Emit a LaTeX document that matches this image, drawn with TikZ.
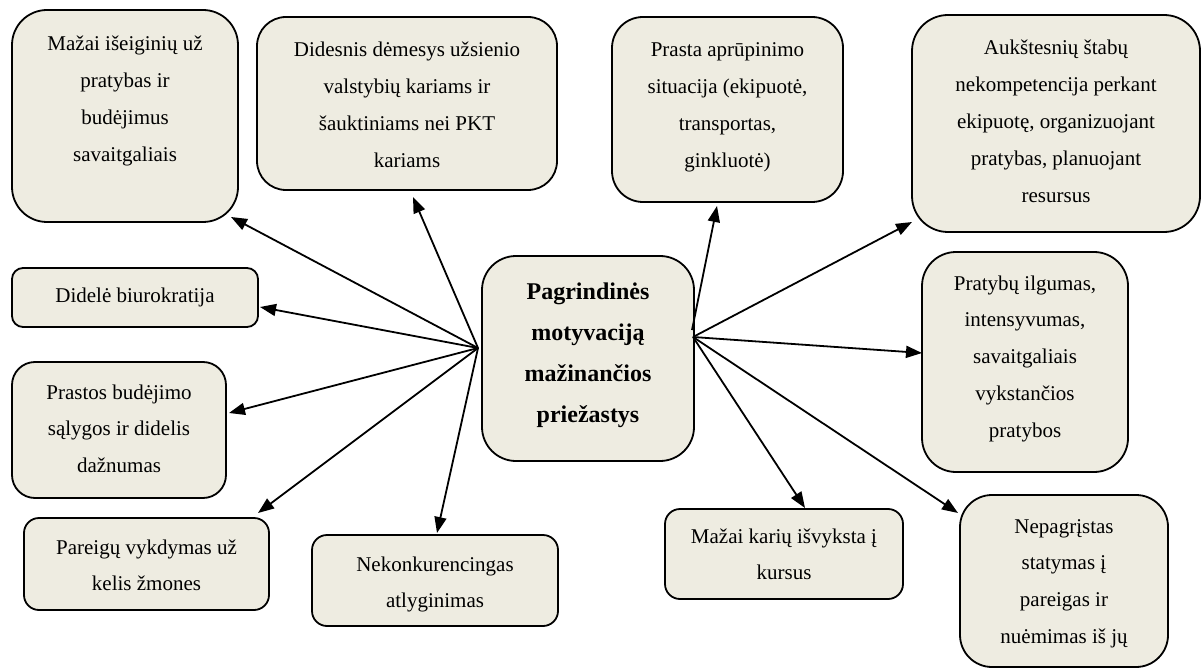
\documentclass[tikz,border=0pt]{standalone}
\usepackage{fontspec}
\setmainfont{Liberation Serif}
\usetikzlibrary{arrows.meta}
\definecolor{boxfill}{HTML}{EEECE1}
% stacked, centred lines; baseline = first line
\newcommand{\linestack}[1]{\begin{tabular}[t]{@{}c@{}}#1\end{tabular}}
\tikzset{
  causebox/.style={draw=black, line width=1.8pt, fill=boxfill, rectangle, inner sep=0pt},
  label/.style={inner sep=0pt, anchor=base, font=\fontsize{21}{36.8}\selectfont},
  mainlabel/.style={inner sep=0pt, anchor=base, font=\fontsize{24}{41.3}\selectfont\bfseries},
  arr/.style={line width=1.8pt, -{Triangle[length=16pt,width=12pt]}}
}
\begin{document}
\begin{tikzpicture}[x=1pt,y=-1pt]
\useasboundingbox (0,0) rectangle (1201,668);

% boxes
\node[causebox, minimum width=226, minimum height=212, rounded corners=35] (b1) at (125,116) {};
\node[causebox, minimum width=300, minimum height=173, rounded corners=29] (b2) at (407,103.5) {};
\node[causebox, minimum width=231, minimum height=185, rounded corners=31] (b3) at (727.5,109.5) {};
\node[causebox, minimum width=288, minimum height=217, rounded corners=36] (b4) at (1056,123.5) {};
\node[causebox, minimum width=246, minimum height=59, rounded corners=11] (b5) at (135,297.5) {};
\node[causebox, minimum width=214, minimum height=136, rounded corners=23] (b6) at (119,430) {};
\node[causebox, minimum width=245, minimum height=92, rounded corners=15] (b7) at (146.5,564) {};
\node[causebox, minimum width=246, minimum height=91, rounded corners=15] (b8) at (435,580.5) {};
\node[causebox, minimum width=238, minimum height=90, rounded corners=15] (b9) at (784,554) {};
\node[causebox, minimum width=206, minimum height=220, rounded corners=34] (b10) at (1025,362) {};
\node[causebox, minimum width=208, minimum height=172, rounded corners=32] (b11) at (1064,581) {};
\node[causebox, minimum width=212, minimum height=205, rounded corners=34] (c) at (588,358.5) {};

% texts
\node[label] (l1) at (125,51) {\linestack{Mažai išeiginių už\\pratybas ir\\budėjimus\\savaitgaliais}};
\node[label] (l2) at (407,57) {\linestack{Didesnis dėmesys užsienio\\valstybių kariams ir\\šauktiniams nei PKT\\kariams}};
\node[label] (l3) at (727.5,57) {\linestack{Prasta aprūpinimo\\situacija (ekipuotė,\\transportas,\\ginkluotė)}};
\node[label] (l4) at (1056,55) {\linestack{Aukštesnių štabų\\nekompetencija perkant\\ekipuotę, organizuojant\\pratybas, planuojant\\resursus}};
\node[label] (l5) at (135,302) {Didelė biurokratija};
\node[label] (l6) at (119,399) {\linestack{Prastos budėjimo\\sąlygos ir didelis\\dažnumas}};
\node[label] (l7) at (146.5,554) {\linestack{Pareigų vykdymas už\\kelis žmones}};
\node[label] (l8) at (435,571) {\linestack{Nekonkurencingas\\atlyginimas}};
\node[label] (l9) at (784,543) {\linestack{Mažai karių išvyksta į\\kursus}};
\node[label] (l10) at (1025,290) {\linestack{Pratybų ilgumas,\\intensyvumas,\\savaitgaliais\\vykstančios\\pratybos}};
\node[label] (l11) at (1064,533) {\linestack{Nepagrįstas\\statymas į\\pareigas ir\\nuėmimas iš jų}};
\node[mainlabel] (lc) at (588,299) {\linestack{Pagrindinės\\motyvaciją\\mažinančios\\priežastys}};

% arrow origins on the central box and arrow tips at the boxes
\coordinate (hubL) at (478,348);
\coordinate (hubR) at (693,337);
\coordinate (hubRt) at (692,330);
\coordinate (t1) at (231,217);
\coordinate (t2) at (413,197);
\coordinate (t3) at (717,206);
\coordinate (t4) at (912,222);
\coordinate (t5) at (260,307);
\coordinate (t6) at (229,413);
\coordinate (t7) at (258,513);
\coordinate (t8) at (437,533);
\coordinate (t9) at (805,508);
\coordinate (t10) at (922,353);
\coordinate (t11) at (958,513);

% connectors
\draw[arr] (hubL) -- (t1);
\draw[arr] (hubL) -- (t2);
\draw[arr] (hubL) -- (t5);
\draw[arr] (hubL) -- (t6);
\draw[arr] (hubL) -- (t7);
\draw[arr] (hubL) -- (t8);
\draw[arr] (hubRt) -- (t3);
\draw[arr] (hubR) -- (t4);
\draw[arr] (hubR) -- (t10);
\draw[arr] (hubR) -- (t9);
\draw[arr] (hubR) -- (t11);
\end{tikzpicture}
\end{document}
